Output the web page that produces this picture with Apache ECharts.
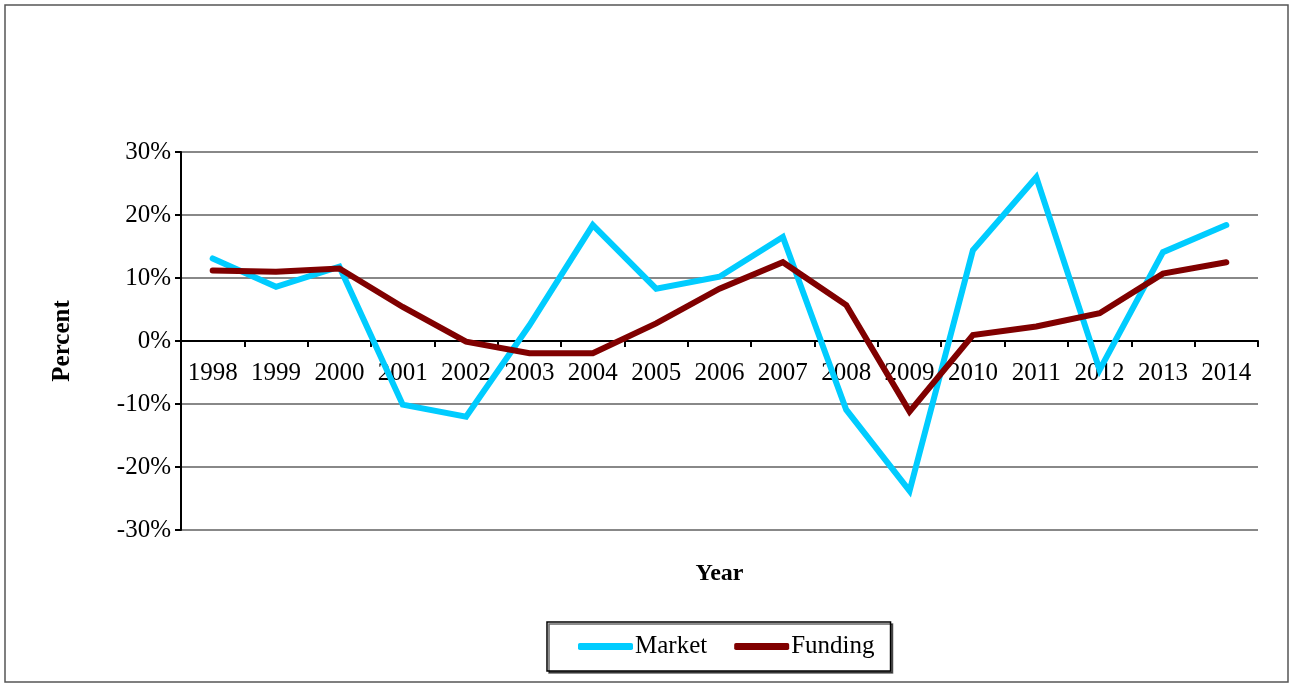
<!DOCTYPE html>
<html>
<head>
<meta charset="UTF-8">
<title>Market and Funding</title>
<script src="https://cdn.jsdelivr.net/npm/echarts@6/dist/echarts.min.js"></script>
<style>
    html, body { margin: 0; padding: 0; background: #fff; }
    #chart1 { width: 1292px; height: 684px; }
</style>
</head>
<body>
<div id="chart1"></div>
<script type="text/javascript">
var chart1 = echarts.init(document.getElementById('chart1'));

// data (percent)
var years = ['1998', '1999', '2000', '2001', '2002', '2003', '2004', '2005', '2006',
    '2007', '2008', '2009', '2010', '2011', '2012', '2013', '2014'];
var market = [13.1, 8.6, 11.8, -10.1, -12.0, 2.5, 18.4, 8.3, 10.2,
    16.5, -10.9, -23.8, 14.4, 26.0, -4.6, 14.1, 18.4];
var funding = [11.2, 11.0, 11.5, 5.4, -0.1, -1.95, -1.95, 2.8, 8.3,
    12.5, 5.7, -11.2, 0.95, 2.3, 4.4, 10.7, 12.5];
var yTicks = { min: -30, max: 30, step: 10 };

var font = '"Liberation Serif", "Times New Roman", serif';
var colors = ['#00CCFF', '#800000'];

// plot box
var gridTop = 152, gridBottom = 154, gridHeight = 684 - gridTop - gridBottom;
// move the category axis up to the 0% line
var zeroShift = -gridHeight * (0 - yTicks.min) / (yTicks.max - yTicks.min);

var option = {
    backgroundColor: '#ffffff',
    animation: false,
    textStyle: { fontFamily: font, color: '#000' },
    graphic: [{
        type: 'rect',
        shape: { x: 5, y: 5, width: 1283, height: 677 },
        style: { fill: 'none', stroke: '#555', lineWidth: 1.5 },
        silent: true
    }],
    grid: { left: 181, right: 34, top: gridTop, bottom: gridBottom, outerBoundsMode: 'none', containLabel: false },
    legend: {
        data: ['Market', 'Funding'],
        left: 547,
        top: 622,
        padding: [12, 16, 12, 31],
        itemGap: 27,
        itemWidth: 55,
        itemHeight: 7,
        icon: 'roundRect',
        borderColor: '#000',
        borderWidth: 1.5,
        borderRadius: 0,
        shadowColor: 'rgba(0,0,0,0.6)',
        shadowOffsetX: 2,
        shadowOffsetY: 2,
        backgroundColor: '#fff',
        textStyle: { fontFamily: font, fontSize: 25, color: '#000', padding: [0, 0, 0, -3] }
    },
    xAxis: {
        type: 'category',
        data: years,
        boundaryGap: true,
        offset: zeroShift,
        name: 'Year',
        nameLocation: 'middle',
        nameGap: 221,
        nameTextStyle: { fontFamily: font, fontSize: 24, fontWeight: 'bold', color: '#000' },
        axisLine: { onZero: false, lineStyle: { color: '#000', width: 2 } },
        axisTick: { show: true, alignWithLabel: false, length: 6, inside: false, lineStyle: { color: '#000', width: 2 } },
        axisLabel: { fontFamily: font, fontSize: 25, color: '#000', margin: 20, interval: 0 },
        splitLine: { show: false }
    },
    yAxis: {
        type: 'value',
        min: yTicks.min,
        max: yTicks.max,
        interval: yTicks.step,
        name: 'Percent',
        nameLocation: 'middle',
        nameRotate: 90,
        nameGap: 106,
        nameTextStyle: { fontFamily: font, fontSize: 25, fontWeight: 'bold', color: '#000' },
        axisLine: { show: true, lineStyle: { color: '#000', width: 2 } },
        axisTick: { show: true, length: 6, lineStyle: { color: '#000', width: 2 } },
        axisLabel: { fontFamily: font, fontSize: 25, color: '#000', margin: 10, formatter: '{value}%' },
        splitLine: { show: true, lineStyle: { color: '#888', width: 2 } }
    },
    series: [
        {
            name: 'Market',
            type: 'line',
            data: market,
            symbol: 'none',
            color: colors[0],
            lineStyle: { width: 6, color: colors[0], cap: 'round', join: 'miter' }
        },
        {
            name: 'Funding',
            type: 'line',
            data: funding,
            symbol: 'none',
            color: colors[1],
            lineStyle: { width: 6, color: colors[1], cap: 'round', join: 'miter' }
        }
    ]
};

chart1.setOption(option);
</script>
</body>
</html>
